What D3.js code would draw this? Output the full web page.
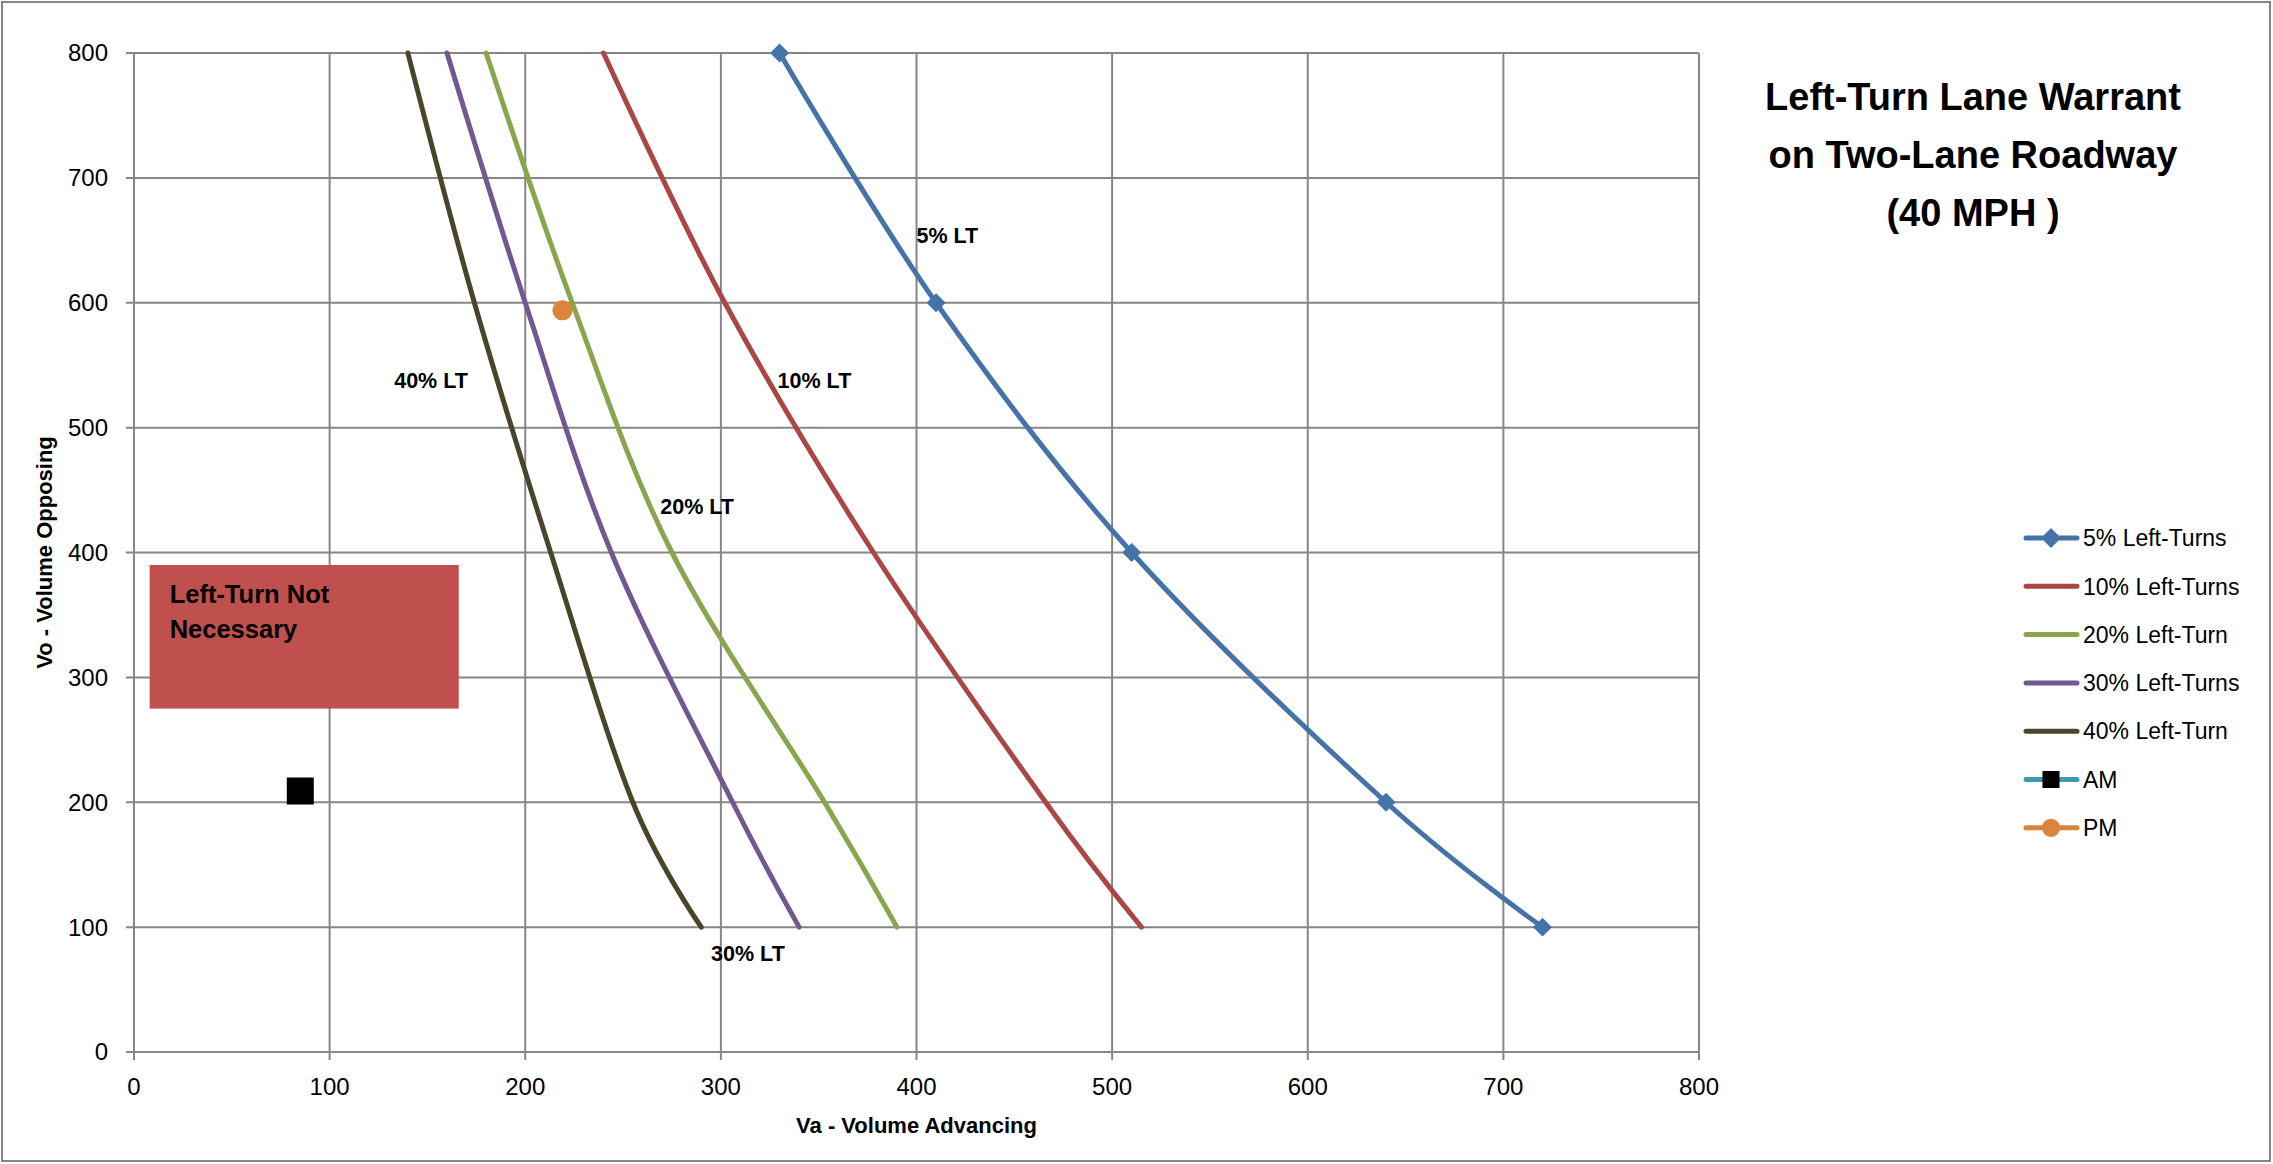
<!DOCTYPE html>
<html>
<head>
<meta charset="utf-8">
<script src="https://cdn.jsdelivr.net/npm/d3@7"></script>
<style>
  html, body { margin: 0; padding: 0; background: #fff; }
  svg { display: block; font-family: "Liberation Sans", Arial, sans-serif; }
</style>
</head>
<body>
<svg id="chart" width="2273" height="1164"></svg>
<script>
// ---- data ----
const yLevels = [800, 600, 400, 200, 100];
const lt5  = [330, 410, 510, 640, 720];
const lt10 = [240, 302, 378, 466, 515];
const lt20 = [180, 224, 275, 353, 390];
const lt30 = [160, 200, 244, 306, 340];
const lt40 = [140, 174, 213, 255, 290];
const seriesNames = ["5% Left-Turns", "10% Left-Turns", "20% Left-Turn", "30% Left-Turns", "40% Left-Turn"];
const amPoint = [85, 209];
const pmPoint = [219, 594];
const legendNames = ["5% Left-Turns", "10% Left-Turns", "20% Left-Turn", "30% Left-Turns", "40% Left-Turn", "AM", "PM"];
const xTicks = [0, 100, 200, 300, 400, 500, 600, 700, 800];
const yTicks = [0, 100, 200, 300, 400, 500, 600, 700, 800];
const curveLabels = [
  { text: "5% LT",  x: 400, y: 648 },
  { text: "10% LT", x: 329, y: 532 },
  { text: "20% LT", x: 269, y: 431 },
  { text: "40% LT", x: 133, y: 532 },
  { text: "30% LT", x: 295, y: 73 }
];
const zoneBox = { x0: 8, x1: 166, y0: 275, y1: 390 };
const zoneText = ["Left-Turn Not", "Necessary"];
const titleLines = ["Left-Turn Lane Warrant", "on Two-Lane Roadway", "(40 MPH )"];
const xTitle = "Va - Volume Advancing";
const yTitle = "Vo - Volume Opposing";

// ---- styles ----
const colors = ["#4572A7", "#AA4643", "#89A54E", "#71588F", "#4A452A"];
const amLineColor = "#4198AF";
const pmColor = "#DB843D";
const gridColor = "#868686";

const svg = d3.select("#chart");
const pLeft = 134, pRight = 1699, pTop = 53, pBottom = 1052;
const x = d3.scaleLinear().domain([0, 800]).range([pLeft, pRight]);
const y = d3.scaleLinear().domain([0, 800]).range([pBottom, pTop]);

// outer border
svg.append("rect").attr("x", 2).attr("y", 2).attr("width", 2268).attr("height", 1159)
  .attr("fill", "#fff").attr("stroke", gridColor).attr("stroke-width", 2);

// gridlines
const g = svg.append("g");
g.selectAll(".vg").data(xTicks).join("line")
  .attr("x1", d => x(d)).attr("x2", d => x(d))
  .attr("y1", pTop).attr("y2", pBottom + 8)
  .attr("stroke", gridColor).attr("stroke-width", 2);
g.selectAll(".hg").data(yTicks).join("line")
  .attr("x1", pLeft - 8).attr("x2", pRight)
  .attr("y1", d => y(d)).attr("y2", d => y(d))
  .attr("stroke", gridColor).attr("stroke-width", 2);

// tick labels
g.selectAll(".xt").data(xTicks).join("text")
  .attr("x", d => x(d)).attr("y", 1095)
  .attr("text-anchor", "middle").attr("font-size", 24).attr("fill", "#000")
  .text(d => d);
g.selectAll(".yt").data(yTicks).join("text")
  .attr("x", 108).attr("y", d => y(d)).attr("dy", "0.35em")
  .attr("text-anchor", "end").attr("font-size", 24).attr("fill", "#000")
  .text(d => d);

// axis titles
svg.append("text").attr("x", (pLeft + pRight) / 2).attr("y", 1133)
  .attr("text-anchor", "middle").attr("font-size", 22).attr("font-weight", "bold")
  .text(xTitle);
svg.append("text").attr("transform", `translate(52,${(pTop + pBottom) / 2}) rotate(-90)`)
  .attr("text-anchor", "middle").attr("font-size", 22).attr("font-weight", "bold")
  .text(yTitle);

// zone box
svg.append("rect")
  .attr("x", x(zoneBox.x0)).attr("y", y(zoneBox.y1))
  .attr("width", x(zoneBox.x1) - x(zoneBox.x0)).attr("height", y(zoneBox.y0) - y(zoneBox.y1))
  .attr("fill", "#C0504D");
svg.selectAll(".zt").data(zoneText).join("text")
  .attr("x", x(zoneBox.x0) + 20).attr("y", (d, i) => y(zoneBox.y1) + 38 + i * 35)
  .attr("font-size", 25.5).attr("font-weight", "bold").attr("fill", "#000")
  .text(d => d);

// curves
const allSeries = [lt5, lt10, lt20, lt30, lt40];
const line = d3.line().x(d => x(d[0])).y(d => y(d[1])).curve(d3.curveCardinal.tension(0));
allSeries.forEach((s, i) => {
  const pts = s.map((v, k) => [v, yLevels[k]]);
  svg.append("path").datum(pts).attr("d", line)
    .attr("fill", "none").attr("stroke", colors[i]).attr("stroke-width", 5)
    .attr("stroke-linecap", "round").attr("stroke-linejoin", "round");
});
// 5% markers
const diamond = d3.symbol(d3.symbolSquare, 180);
svg.selectAll(".dm").data(lt5.map((v, k) => [v, yLevels[k]])).join("path")
  .attr("d", diamond)
  .attr("transform", d => `translate(${x(d[0])},${y(d[1])}) rotate(45)`)
  .attr("fill", colors[0]);

// AM / PM points
svg.append("path").attr("d", d3.symbol(d3.symbolSquare, 729))
  .attr("transform", `translate(${x(amPoint[0])},${y(amPoint[1])})`).attr("fill", "#000");
svg.append("path").attr("d", d3.symbol(d3.symbolCircle, 320))
  .attr("transform", `translate(${x(pmPoint[0])},${y(pmPoint[1])})`).attr("fill", pmColor);

// curve labels
svg.selectAll(".cl").data(curveLabels).join("text")
  .attr("x", d => x(d.x)).attr("y", d => y(d.y))
  .attr("font-size", 21.5).attr("font-weight", "bold").attr("fill", "#000")
  .text(d => d.text);

// title
svg.selectAll(".tt").data(titleLines).join("text")
  .attr("x", 1973).attr("y", (d, i) => 110 + i * 58)
  .attr("text-anchor", "middle").attr("font-size", 38).attr("font-weight", "bold")
  .text(d => d);

// legend
const legColors = colors.concat([amLineColor, pmColor]);
const lg = svg.append("g");
legendNames.forEach((name, i) => {
  const cy = 538 + i * 48.3;
  lg.append("line").attr("x1", 2026).attr("x2", 2077).attr("y1", cy).attr("y2", cy)
    .attr("stroke", legColors[i]).attr("stroke-width", 5).attr("stroke-linecap", "round");
  if (i === 0) {
    lg.append("path").attr("d", d3.symbol(d3.symbolSquare, 200))
      .attr("transform", `translate(2051,${cy}) rotate(45)`).attr("fill", colors[0]);
  } else if (i === 5) {
    lg.append("path").attr("d", d3.symbol(d3.symbolSquare, 290))
      .attr("transform", `translate(2051,${cy})`).attr("fill", "#000");
  } else if (i === 6) {
    lg.append("path").attr("d", d3.symbol(d3.symbolCircle, 260))
      .attr("transform", `translate(2051,${cy})`).attr("fill", pmColor);
  }
  lg.append("text").attr("x", 2083).attr("y", cy).attr("dy", "0.36em")
    .attr("font-size", 23).attr("fill", "#000").text(name);
});
</script>
</body>
</html>
